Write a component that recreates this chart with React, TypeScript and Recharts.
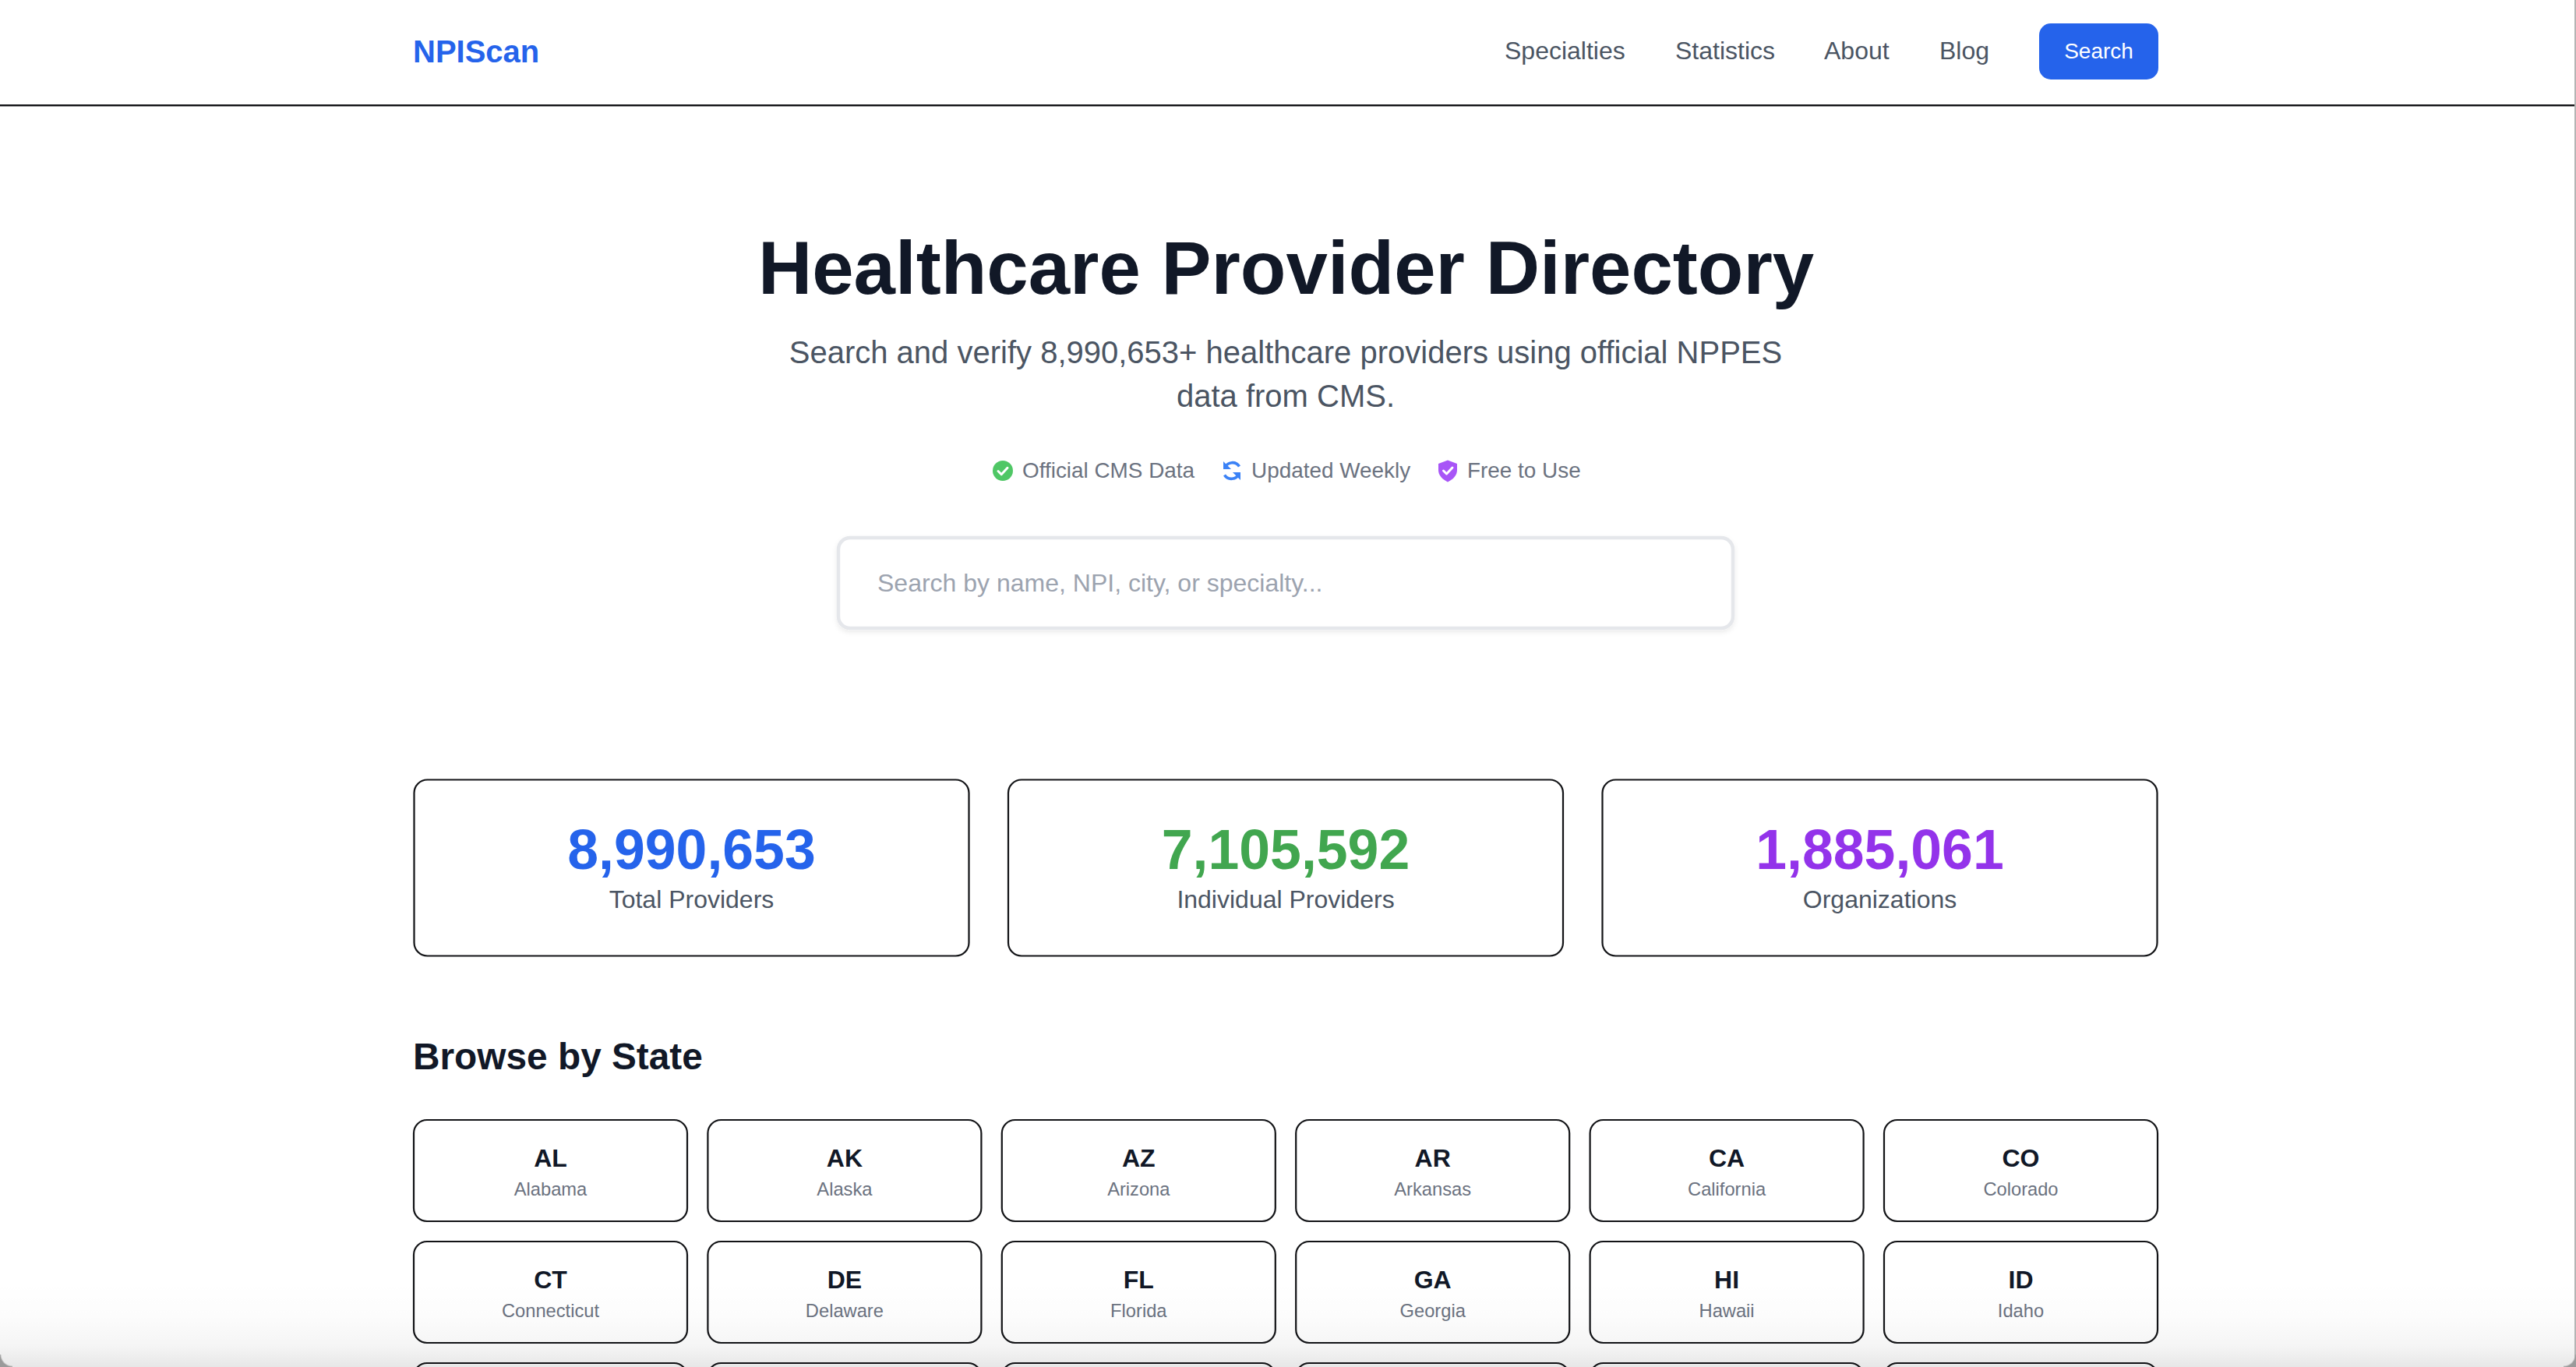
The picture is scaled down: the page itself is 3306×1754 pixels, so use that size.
import React from "react";
import { ScatterChart, Scatter, XAxis, YAxis, Rectangle } from "recharts";

const FONT = "'Liberation Sans', Arial, sans-serif";

const navLabels = ["Specialties", "Statistics", "About", "Blog"];
const navStarts = [1931, 2150, 2341, 2489];
const badgeLabels = ["Official CMS Data", "Updated Weekly", "Free to Use"];
const statValues = ["8,990,653", "7,105,592", "1,885,061"];
const statLabels = ["Total Providers", "Individual Providers", "Organizations"];
const statColors = ["#2563eb", "#41a64f", "#9333ea"];
const stateCodes = ["AL","AK","AZ","AR","CA","CO","CT","DE","FL","GA","HI","ID","IL","IN","IA","KS","KY","LA"];
const stateNames = ["Alabama","Alaska","Arizona","Arkansas","California","Colorado","Connecticut","Delaware","Florida","Georgia","Hawaii","Idaho","Illinois","Indiana","Iowa","Kansas","Kentucky","Louisiana"];

const statRows = statValues.map((value, i) => ({ col: i, row: 0, value, label: statLabels[i], color: statColors[i] }));
const stateRows = stateCodes.map((code, i) => ({ col: i % 6, row: Math.floor(i / 6), code, name: stateNames[i] }));

const DARK = "#111827";
const LINE = "#121316";
const T = (p: any) => <text fontFamily={FONT} {...p} />;

function StatCard(props: any) {
  const { cx, cy, payload } = props;
  return (
    <g>
      <Rectangle x={cx - 356} y={cy - 113} width={712} height={226} radius={17} fill="#fff" stroke={LINE} strokeWidth={2.2} />
      <T x={cx} y={cy + 1.5} textAnchor="middle" fontSize={71.6} fontWeight={700} fill={payload.color}>{payload.value}</T>
      <T x={cx} y={cy + 51} textAnchor="middle" fontSize={32} fill="#4b5563">{payload.label}</T>
    </g>
  );
}

function StateCard(props: any) {
  const { cx, cy, payload } = props;
  return (
    <g>
      <Rectangle x={cx - 175.5} y={cy - 65} width={351} height={130} radius={17} fill="#fff" stroke={LINE} strokeWidth={2.2} />
      {payload.row < 2 && (
        <>
          <T x={cx} y={cy - 5} textAnchor="middle" fontSize={32} fontWeight={700} fill={DARK}>{payload.code}</T>
          <T x={cx} y={cy + 32} textAnchor="middle" fontSize={23.7} fill="#6b7280">{payload.name}</T>
        </>
      )}
    </g>
  );
}

function Chrome() {
  return (
    <g>
      <defs>
        <filter id="boxShadow" x="-5%" y="-10%" width="110%" height="130%">
          <feDropShadow dx="0" dy="3" stdDeviation="3" floodColor="#000" floodOpacity="0.08" />
        </filter>
      </defs>
      <rect x={0} y={134} width={3306} height={2.4} fill={LINE} />
      <T x={530} y={80} fontSize={40} fontWeight={700} fill="#2563eb">NPIScan</T>
      {navLabels.map((label, i) => (
        <T key={label} x={navStarts[i]} y={76} fontSize={32} fill="#4b5563">{label}</T>
      ))}
      <Rectangle x={2617} y={30} width={153} height={72} radius={15} fill="#2563eb" />
      <T x={2693.5} y={75} textAnchor="middle" fontSize={28} fill="#fff">Search</T>

      <T x={1650.5} y={377} textAnchor="middle" fontSize={96} fontWeight={700} fill={DARK}>Healthcare Provider Directory</T>
      <T x={1650} y={466} textAnchor="middle" fontSize={40} fill="#4b5563">Search and verify 8,990,653+ healthcare providers using official NPPES</T>
      <T x={1650} y={522} textAnchor="middle" fontSize={40} fill="#4b5563">data from CMS.</T>

      <circle cx={1287} cy={604} r={13} fill="#4fc765" />
      <path d="M1281 604.5l4.2 4.2 7.8-8.4" fill="none" stroke="#fff" strokeWidth={3} strokeLinecap="round" strokeLinejoin="round" />
      <T x={1312} y={613} fontSize={27.9} fill="#6b7280">{badgeLabels[0]}</T>

      <g fill="none" stroke="#3b82f6" strokeWidth={3.6}>
        <path d="M1572 600a10.5 10.5 0 0 1 18.5-1.5" />
        <path d="M1590 608a10.5 10.5 0 0 1-18.5 1.5" />
      </g>
      <path d="M1570 592v10h10z" fill="#3b82f6" />
      <path d="M1592 616v-10h-10z" fill="#3b82f6" />
      <T x={1606} y={613} fontSize={27.9} fill="#6b7280">{badgeLabels[1]}</T>

      <path d="M1858 590.5l12 4.5v8c0 7-5 12-12 15.5c-7-3.500-12-8.500-12-15.500v-8z" fill="#a855f7" />
      <path d="M1852.500 604l4 4 7.500-8" fill="none" stroke="#fff" strokeWidth={3} strokeLinecap="round" strokeLinejoin="round" />
      <T x={1883} y={613} fontSize={27.9} fill="#6b7280">{badgeLabels[2]}</T>

      <Rectangle x={1076} y={690} width={1148} height={116} radius={15} fill="#fff" stroke="#e5e7eb" strokeWidth={4.5} style={{ filter: "url(#boxShadow)" }} />
      <T x={1126} y={759} fontSize={32} fill="#9ca3af">Search by name, NPI, city, or specialty...</T>

      <T x={530} y={1372} fontSize={47.8} fontWeight={700} fill={DARK}>Browse by State</T>
    </g>
  );
}

const cornerStyle = (side: "left" | "right"): React.CSSProperties => ({
  position: "absolute",
  bottom: 0,
  [side]: 0,
  width: 16,
  height: 16,
  pointerEvents: "none",
  background: `radial-gradient(circle at ${side === "left" ? "100%" : "0%"} 0%, rgba(0,0,0,0) 14px, #9a9a9a 16px)`,
});

export default function App() {
  return (
    <div style={{ position: "absolute", left: 0, top: 0, width: 3306, height: 1754, overflow: "hidden", background: "#fff" }}>
      <ScatterChart width={3306} height={2000} margin={{ top: 0, right: 0, bottom: 0, left: 0 }}>
        <XAxis xAxisId="stat" dataKey="col" type="number" hide domain={[0, 2]} padding={{ left: 887.5, right: 893.5 }} />
        <YAxis yAxisId="stat" dataKey="row" type="number" hide reversed domain={[0, 1]} padding={{ top: 1113.5, bottom: 0 }} />
        <XAxis xAxisId="state" dataKey="col" type="number" hide domain={[0, 5]} padding={{ left: 706.5, right: 712.5 }} />
        <YAxis yAxisId="state" dataKey="row" type="number" hide reversed domain={[0, 2]} padding={{ top: 1502, bottom: 186 }} />
        <Chrome />
        <Scatter data={statRows} xAxisId="stat" yAxisId="stat" shape={StatCard} isAnimationActive={false} />
        <Scatter data={stateRows} xAxisId="state" yAxisId="state" shape={StateCard} isAnimationActive={false} />
      </ScatterChart>
      <div style={{ position: "absolute", left: 0, right: 0, bottom: 0, height: 110, pointerEvents: "none",
        background: "linear-gradient(to bottom, rgba(0,0,0,0) 0%, rgba(0,0,0,0.012) 40%, rgba(0,0,0,0.04) 75%, rgba(0,0,0,0.095) 100%)" }} />
      <div style={{ position: "absolute", right: 0, top: 0, bottom: 0, width: 2, background: "#b4b4b4", pointerEvents: "none" }} />
      <div style={cornerStyle("left")} />
      <div style={cornerStyle("right")} />
    </div>
  );
}
